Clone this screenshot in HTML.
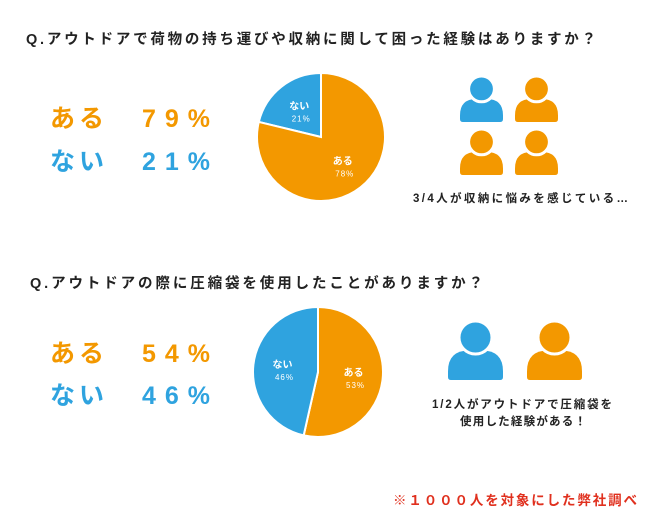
<!DOCTYPE html>
<html><head><meta charset="utf-8"><style>
html,body{margin:0;padding:0;background:#fff}
svg{display:block;font-family:"Liberation Sans","Noto Sans CJK JP",sans-serif}
</style></head><body>
<svg id="c" width="650" height="529" viewBox="0 0 650 529">
<text x="26" y="44" font-size="14.5" font-weight="bold" fill="#222" textLength="570" lengthAdjust="spacing">Q.アウトドアで荷物の持ち運びや収納に関して困った経験はありますか？</text>
<text x="50" y="127" font-size="25" font-weight="bold" fill="#f39800" textLength="54" lengthAdjust="spacing">ある</text>
<text x="142" y="127" font-size="25" font-weight="bold" fill="#f39800" textLength="68" lengthAdjust="spacing">79%</text>
<text x="50" y="170" font-size="25" font-weight="bold" fill="#2fa3df" textLength="54" lengthAdjust="spacing">ない</text>
<text x="142" y="170" font-size="25" font-weight="bold" fill="#2fa3df" textLength="68" lengthAdjust="spacing">21%</text>
<g id="pie1"></g>
<g id="icons1"></g>
<text x="413" y="202" font-size="11.5" font-weight="bold" fill="#222" textLength="215" lengthAdjust="spacing">3/4人が収納に悩みを感じている…</text>

<text x="30" y="288" font-size="14.5" font-weight="bold" fill="#222" textLength="453" lengthAdjust="spacing">Q.アウトドアの際に圧縮袋を使用したことがありますか？</text>
<text x="50" y="362" font-size="25" font-weight="bold" fill="#f39800" textLength="54" lengthAdjust="spacing">ある</text>
<text x="142" y="362" font-size="25" font-weight="bold" fill="#f39800" textLength="68" lengthAdjust="spacing">54%</text>
<text x="50" y="404" font-size="25" font-weight="bold" fill="#2fa3df" textLength="54" lengthAdjust="spacing">ない</text>
<text x="142" y="404" font-size="25" font-weight="bold" fill="#2fa3df" textLength="68" lengthAdjust="spacing">46%</text>
<g id="pie2"></g>
<g id="icons2"></g>
<text x="432" y="408" font-size="11.5" font-weight="bold" fill="#222" textLength="180" lengthAdjust="spacing">1/2人がアウトドアで圧縮袋を</text>
<text x="460" y="425" font-size="11.5" font-weight="bold" fill="#222" textLength="126" lengthAdjust="spacing">使用した経験がある！</text>
<text x="393" y="505" font-size="13.5" font-weight="bold" fill="#e0301e" textLength="244" lengthAdjust="spacing">※１０００人を対象にした弊社調べ</text>
</svg>
<script>
const pie1Labels = ["ない","ある"];
const pie1Values = [21, 78];
const pie1Pct = ["21%","78%"];
const pie2Labels = ["ある","ない"];
const pie2Values = [53, 46];
const pie2Pct = ["53%","46%"];

const NS = "http://www.w3.org/2000/svg";
const OR = "#f39800", BL = "#2fa3df";

function drawPie(g, cx, cy, r, values, labels, pct, colors, startDir) {
  const total = values.reduce((a,b)=>a+b,0);
  let a0 = -Math.PI/2;
  values.forEach((v,i)=>{
    const sweep = v/total*2*Math.PI*startDir;
    const a1 = a0 + sweep;
    const x0 = cx + r*Math.cos(a0), y0 = cy + r*Math.sin(a0);
    const x1 = cx + r*Math.cos(a1), y1 = cy + r*Math.sin(a1);
    const large = Math.abs(sweep) > Math.PI ? 1 : 0;
    const sw = startDir > 0 ? 1 : 0;
    const p = document.createElementNS(NS,"path");
    p.setAttribute("d",`M${cx},${cy}L${x0},${y0}A${r},${r} 0 ${large} ${sw} ${x1},${y1}Z`);
    p.setAttribute("fill",colors[i]);
    p.setAttribute("stroke","#fff");
    p.setAttribute("stroke-width","2");
    
    
    g.appendChild(p);
    const am = (a0+a1)/2;
    const lx = cx + r*0.55*Math.cos(am), ly = cy + r*0.55*Math.sin(am);
    const t1 = document.createElementNS(NS,"text");
    t1.setAttribute("x",lx); t1.setAttribute("y",ly);
    t1.setAttribute("text-anchor","middle"); t1.setAttribute("font-size","10");
    t1.setAttribute("font-weight","bold"); t1.setAttribute("fill","#fff");
    t1.textContent = labels[i];
    
    
    g.appendChild(t1);
    const t2 = document.createElementNS(NS,"text");
    t2.setAttribute("x",lx+2); t2.setAttribute("y",ly+12);
    t2.setAttribute("text-anchor","middle"); t2.setAttribute("font-size","8");
    t2.setAttribute("letter-spacing","1"); t2.setAttribute("fill","#fff");
    t2.textContent = pct[i];
    
    
    g.appendChild(t2);
    a0 = a1;
  });
}
drawPie(document.getElementById("pie1"), 321, 137, 64, pie1Values, pie1Labels, pie1Pct, [BL, OR], -1);
drawPie(document.getElementById("pie2"), 318, 372, 65, pie2Values, pie2Labels, pie2Pct, [OR, BL], 1);

function person(g, x, y, w, h, color) {
  const hr = w*0.3, cx = x + w/2;
  const bt = y + h*0.5, rr = w*0.38;
  const body = document.createElementNS(NS,"path");
  body.setAttribute("d",`M${x},${y+h-3}L${x},${bt+rr}Q${x},${bt} ${x+rr},${bt}L${x+w-rr},${bt}Q${x+w},${bt} ${x+w},${bt+rr}L${x+w},${y+h-3}Q${x+w},${y+h} ${x+w-3},${y+h}L${x+3},${y+h}Q${x},${y+h} ${x},${y+h-3}Z`);
  body.setAttribute("fill",color);
  
  
  g.appendChild(body);
  const head = document.createElementNS(NS,"circle");
  head.setAttribute("cx",cx); head.setAttribute("cy",y+hr);
  head.setAttribute("r",hr); head.setAttribute("fill",color);
  head.setAttribute("stroke","#fff"); head.setAttribute("stroke-width","3");
  
  
  g.appendChild(head);
}
const i1 = document.getElementById("icons1");
person(i1, 460, 76, 43, 46, BL);
person(i1, 515, 76, 43, 46, OR);
person(i1, 460, 129, 43, 46, OR);
person(i1, 515, 129, 43, 46, OR);
const i2 = document.getElementById("icons2");
person(i2, 448, 321, 55, 59, BL);
person(i2, 527, 321, 55, 59, OR);
</script>
</body></html>
